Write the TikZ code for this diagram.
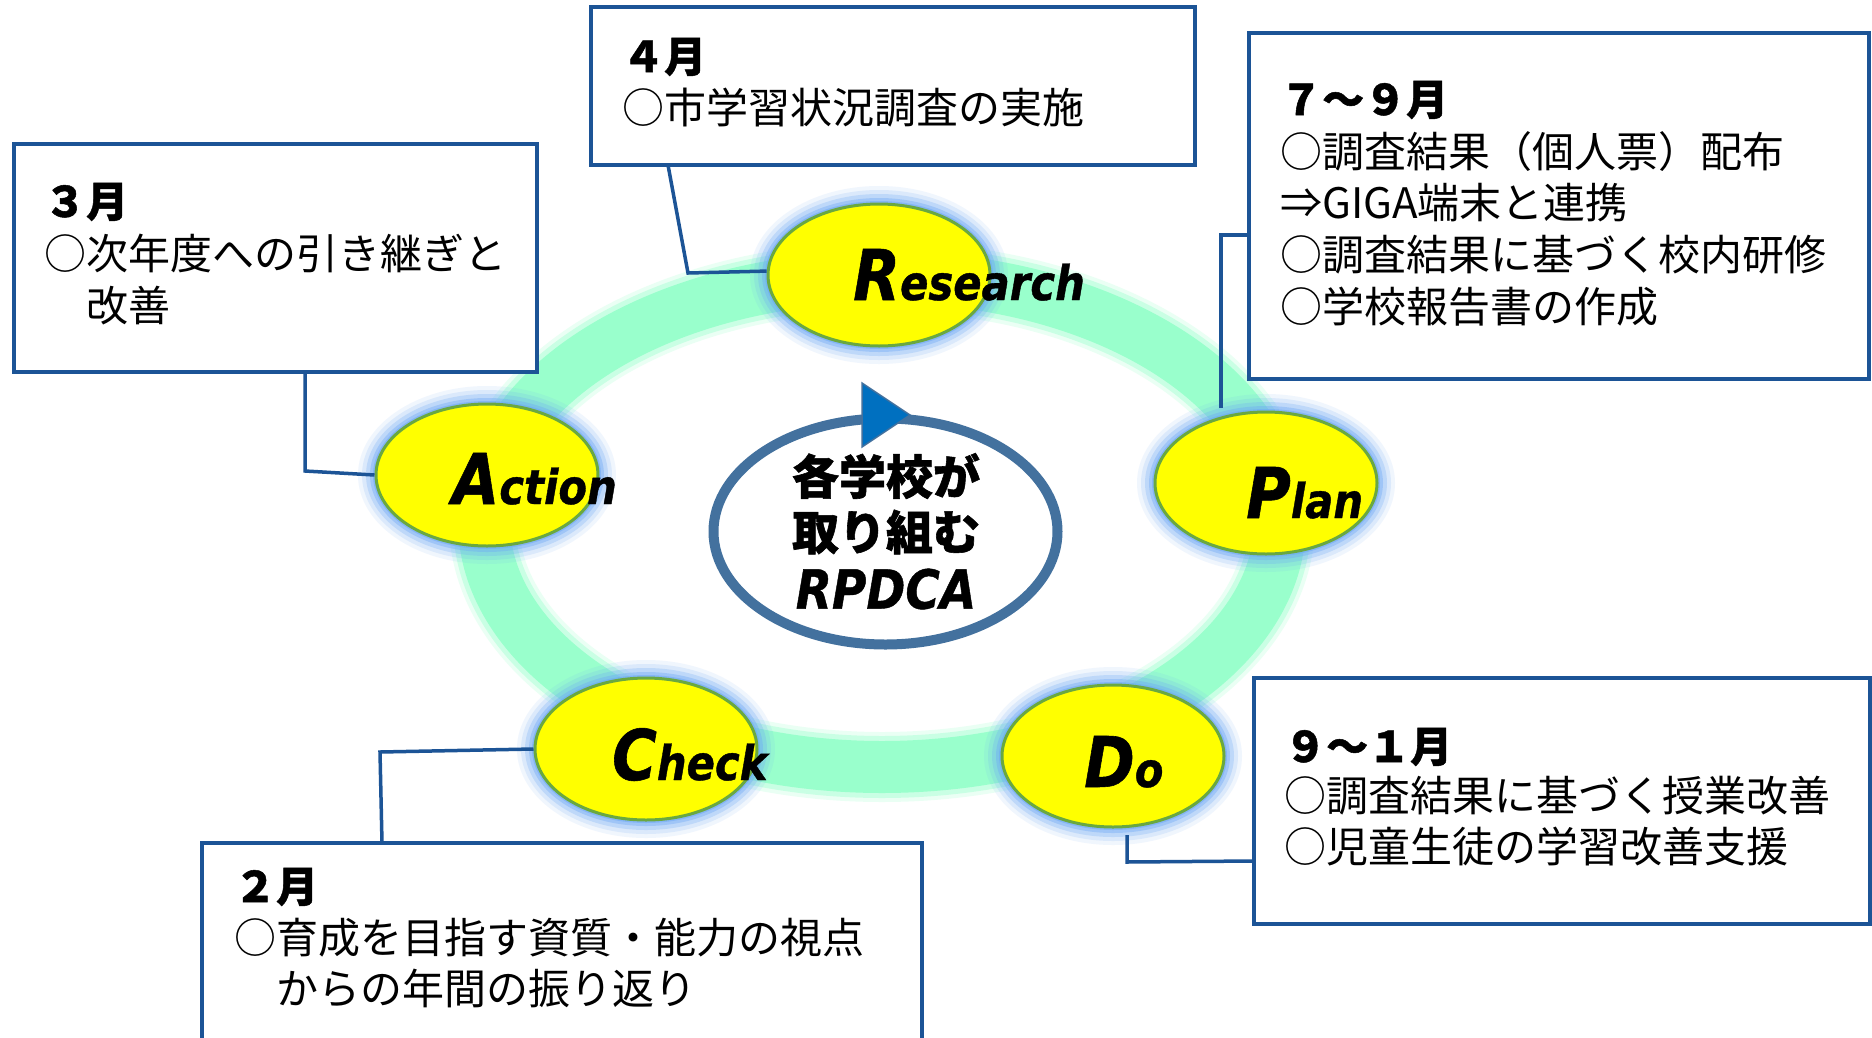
\documentclass[tikz,border=0pt]{standalone}
\usepackage{fontspec}
\setmainfont{Noto Sans CJK JP}
\newfontfamily\jp{Noto Sans CJK JP}
\newfontfamily\jpb{Noto Sans CJK JP}[FakeBold=1.2]
\newfontfamily\pop{DejaVu Sans Bold Oblique}[FakeStretch=0.87,FakeBold=0.8]
\usetikzlibrary{shapes.geometric}
\definecolor{boxblue}{RGB}{28,84,150}
\definecolor{mint}{RGB}{153,255,204}
\definecolor{ylw}{RGB}{255,255,0}
\definecolor{egreen}{RGB}{106,168,64}
\definecolor{glowc}{RGB}{110,168,245}
\definecolor{ctrblue}{RGB}{67,113,158}
\definecolor{trifill}{RGB}{0,112,192}
\newcommand\lab[2]{{\fontsize{70}{70}\selectfont #1}{\fontsize{48}{48}\selectfont #2}}
\newcommand\glowat[1]{%
  \foreach \d/\o in {18/0.10,14/0.16,10/0.26,6/0.38,3/0.55}{%
    \pgfmathsetmacro\rx{111+\d}\pgfmathsetmacro\ry{71+\d}%
    \fill[glowc,opacity=\o] (#1) ellipse [x radius=\rx, y radius=\ry];}}
\begin{document}
\begin{tikzpicture}[x=1pt,y=-1pt,
  box/.style={rectangle,draw=boxblue,line width=3.5pt,fill=white,inner sep=0pt},
  conn/.style={draw=boxblue,line width=3.5pt},
  yel/.style={ellipse,draw=egreen,line width=3pt,fill=ylw,minimum width=222pt,minimum height=142pt,inner sep=0pt},
  txt/.style={anchor=base west,inner sep=0pt,font=\jp\fontsize{42}{52}\selectfont},
  head/.style={anchor=base west,inner sep=0pt,font=\jpb\bfseries\fontsize{42}{52}\selectfont},
  lbl/.style={anchor=base west,inner sep=0pt,font=\pop}]
\useasboundingbox (0,0) rectangle (1872,1037);
\fill[white] (0,0) rectangle (1872,1037);

% ring
\foreach \w/\o in {70/0.2,62/0.4,52/1}{%
  \draw[mint,line width=\w pt,opacity=\o] (882,522) ellipse [x radius=398, y radius=245];}

% ellipse centres
\coordinate (pR) at (879,275);
\coordinate (pA) at (487,475);
\coordinate (pP) at (1266,483);
\coordinate (pC) at (646,749);
\coordinate (pD) at (1113,756);
\glowat{pR}\glowat{pA}\glowat{pP}\glowat{pC}\glowat{pD}

% boxes
\node[box,minimum width=604pt,minimum height=158pt] (b4) at (893,86) {};
\node[box,minimum width=620pt,minimum height=346pt] (b79) at (1559,206) {};
\node[box,minimum width=523pt,minimum height=228pt] (b3) at (275.5,258) {};
\node[box,minimum width=720pt,minimum height=257pt] (b2) at (562,971.5) {};
\node[box,minimum width=616pt,minimum height=246pt] (b91) at (1562,801) {};

% connector end points
\coordinate (k4) at (668,165);
\coordinate (k3) at (305,372);
\coordinate (kP) at (1221,408);
\coordinate (kP2) at (1249,235);
\coordinate (k2) at (382,843);
\coordinate (kD) at (1127,835);
\coordinate (kD2) at (1254,861);

% yellow ellipses
\node[yel] (R) at (pR) {};
\node[yel] (A) at (pA) {};
\node[yel] (P) at (pP) {};
\node[yel] (C) at (pC) {};
\node[yel] (D) at (pD) {};

% connectors
\draw[conn] (k4) -- (688,273) -- (R.178);
\draw[conn] (k3) -- (305,471) -- (A.west);
\draw[conn] (kP) -- (1221,235) -- (kP2);
\draw[conn] (C.west) -- (380,752) -- (k2);
\draw[conn] (kD) -- (1127,862) -- (kD2);

% labels
\node[lbl] (tR) at (853,300) {\lab{R}{esearch}};
\node[lbl] (tA) at (452,504) {\lab{A}{ction}};
\node[lbl] (tP) at (1246,518) {\lab{P}{lan}};
\node[lbl] (tC) at (612,780) {\lab{C}{heck}};
\node[lbl] (tD) at (1084,787) {\lab{D}{o}};

% centre
\node[ellipse,draw=ctrblue,line width=10pt,fill=white,minimum width=344pt,minimum height=226pt,inner sep=0pt] (ctr) at (885.5,531.5) {};
\filldraw[fill=trifill,draw=ctrblue,line width=1.5pt] (862,383) -- (862,447) -- (910,415) -- cycle;
\node[inner sep=0pt,font=\jpb\bfseries\fontsize{47}{47}\selectfont] (m1) at (886,476) {各学校が};
\node[inner sep=0pt,font=\jpb\bfseries\fontsize{47}{47}\selectfont] (m2) at (886,532) {取り組む};
\node[inner sep=0pt,font=\pop\fontsize{54}{54}\selectfont] (m3) at (886,589) {RPDCA};

% box texts
\node[head] (h4) at (622,72) {４月};
\node[txt] (t4) at (622,123) {○市学習状況調査の実施};

\node[head] (h79) at (1280,115) {７～９月};
\node[txt] (t79a) at (1280,167) {○調査結果（個人票）配布};
\node[txt] (t79b) at (1280,218) {⇒GIGA端末と連携};
\node[txt] (t79c) at (1280,270) {○調査結果に基づく校内研修};
\node[txt] (t79d) at (1280,322) {○学校報告書の作成};

\node[head] (h3) at (44,217) {３月};
\node[txt] (t3a) at (44,269) {○次年度への引き継ぎと};
\node[txt] (t3b) at (86,321) {改善};

\node[head] (h2) at (234,902) {２月};
\node[txt] (t2a) at (234,953) {○育成を目指す資質・能力の視点};
\node[txt] (t2b) at (276,1004) {からの年間の振り返り};

\node[head] (h91) at (1284,762) {９～１月};
\node[txt] (t91a) at (1284,811) {○調査結果に基づく授業改善};
\node[txt] (t91b) at (1284,862) {○児童生徒の学習改善支援};
\end{tikzpicture}
\end{document}
